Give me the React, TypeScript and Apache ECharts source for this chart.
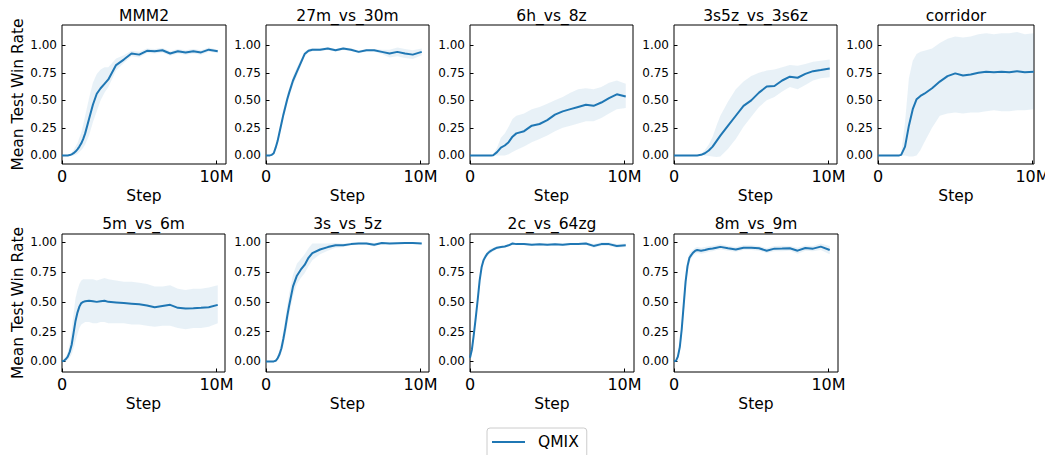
import React, { useEffect, useRef } from 'react';
import * as echarts from 'echarts';

// ---- data (steps in millions) ----
const STEPS = [0, 0.125, 0.25, 0.375, 0.5, 0.625, 0.75, 0.875, 1, 1.125, 1.25, 1.375, 1.5, 1.75, 2, 2.25, 2.5, 2.75, 3, 3.5, 4, 4.5, 5, 5.5, 6, 6.5, 7, 7.5, 8, 8.5, 9, 9.5, 10.08];

const TITLES = ['MMM2', '27m_vs_30m', '6h_vs_8z', '3s5z_vs_3s6z', 'corridor', '5m_vs_6m', '3s_vs_5z', '2c_vs_64zg', '8m_vs_9m'];
const X_TICKS = [0, 10];
const Y_TICKS = [0, 0.25, 0.5, 0.75, 1];
const SERIES_NAME = 'QMIX';

const mmm2Mean = [0, 0, 0, 0, 0.003, 0.01, 0.02, 0.035, 0.055, 0.08, 0.11, 0.15, 0.2, 0.33, 0.46, 0.56, 0.61, 0.65, 0.69, 0.82, 0.87, 0.925, 0.915, 0.95, 0.945, 0.955, 0.925, 0.945, 0.935, 0.945, 0.935, 0.96, 0.945];
const mmm2Low = [0, 0, 0, 0, 0, 0, 0, 0.005, 0.015, 0.03, 0.05, 0.07, 0.1, 0.18, 0.3, 0.4, 0.5, 0.57, 0.62, 0.77, 0.84, 0.9, 0.89, 0.93, 0.925, 0.935, 0.905, 0.925, 0.915, 0.925, 0.915, 0.94, 0.93];
const mmm2High = [0, 0, 0, 0, 0.01, 0.025, 0.05, 0.08, 0.11, 0.16, 0.21, 0.28, 0.36, 0.52, 0.66, 0.74, 0.78, 0.8, 0.8, 0.88, 0.91, 0.95, 0.94, 0.97, 0.965, 0.975, 0.945, 0.965, 0.955, 0.965, 0.955, 0.98, 0.96];

const m27Mean = [0, 0, 0, 0.005, 0.02, 0.07, 0.13, 0.21, 0.29, 0.37, 0.44, 0.51, 0.57, 0.68, 0.76, 0.84, 0.92, 0.95, 0.96, 0.96, 0.97, 0.955, 0.97, 0.96, 0.94, 0.955, 0.955, 0.94, 0.925, 0.94, 0.925, 0.915, 0.94];
const m27Low = [0, 0, 0, 0, 0.01, 0.05, 0.1, 0.17, 0.25, 0.33, 0.4, 0.47, 0.53, 0.64, 0.72, 0.81, 0.9, 0.935, 0.945, 0.948, 0.958, 0.943, 0.958, 0.948, 0.928, 0.943, 0.943, 0.92, 0.89, 0.9, 0.885, 0.875, 0.91];
const m27High = [0, 0, 0, 0.01, 0.03, 0.09, 0.16, 0.25, 0.33, 0.41, 0.48, 0.55, 0.61, 0.72, 0.8, 0.87, 0.94, 0.965, 0.975, 0.972, 0.982, 0.967, 0.982, 0.972, 0.952, 0.967, 0.967, 0.96, 0.96, 0.98, 0.965, 0.955, 0.97];

const h6Mean = [0, 0, 0, 0, 0, 0, 0, 0, 0, 0, 0, 0, 0.002, 0.03, 0.07, 0.09, 0.12, 0.17, 0.2, 0.22, 0.27, 0.285, 0.32, 0.37, 0.4, 0.42, 0.44, 0.46, 0.45, 0.48, 0.52, 0.555, 0.535];
const h6Low = [0, 0, 0, 0, 0, 0, 0, 0, 0, 0, 0, 0, 0, 0, 0, 0, 0.01, 0.03, 0.05, 0.08, 0.12, 0.15, 0.18, 0.22, 0.25, 0.27, 0.29, 0.31, 0.31, 0.34, 0.38, 0.42, 0.43];
const h6High = [0, 0, 0, 0, 0, 0, 0, 0, 0, 0, 0, 0, 0.01, 0.07, 0.16, 0.2, 0.26, 0.33, 0.36, 0.38, 0.42, 0.44, 0.47, 0.5, 0.53, 0.57, 0.6, 0.61, 0.6, 0.62, 0.66, 0.68, 0.65];

const s5zMean = [0, 0, 0, 0, 0, 0, 0, 0, 0, 0, 0, 0, 0, 0.005, 0.02, 0.045, 0.08, 0.13, 0.18, 0.27, 0.36, 0.45, 0.5, 0.57, 0.625, 0.63, 0.68, 0.715, 0.705, 0.74, 0.765, 0.775, 0.79];
const s5zLow = [0, 0, 0, 0, 0, 0, 0, 0, 0, 0, 0, 0, 0, 0, 0, -0.005, -0.01, -0.015, -0.01, 0.06, 0.15, 0.26, 0.35, 0.44, 0.5, 0.53, 0.58, 0.62, 0.6, 0.64, 0.68, 0.7, 0.71];
const s5zHigh = [0, 0, 0, 0, 0, 0, 0, 0, 0, 0, 0, 0, 0, 0.01, 0.05, 0.1, 0.17, 0.27, 0.36, 0.49, 0.6, 0.67, 0.72, 0.75, 0.77, 0.78, 0.8, 0.82, 0.815, 0.83, 0.85, 0.86, 0.87];

const corMean = [0, 0, 0, 0, 0, 0, 0, 0, 0, 0, 0, 0, 0.005, 0.08, 0.27, 0.42, 0.51, 0.54, 0.56, 0.61, 0.67, 0.72, 0.745, 0.725, 0.735, 0.75, 0.76, 0.755, 0.76, 0.755, 0.765, 0.755, 0.76];
const corLow = [0, 0, 0, 0, 0, 0, 0, 0, 0, 0, 0, 0, 0, 0, -0.01, -0.01, 0, 0.05, 0.12, 0.25, 0.36, 0.38, 0.39, 0.38, 0.39, 0.39, 0.4, 0.41, 0.4, 0.4, 0.41, 0.41, 0.42];
const corHigh = [0, 0, 0, 0, 0, 0, 0, 0, 0, 0, 0, 0, 0.02, 0.3, 0.7, 0.86, 0.92, 0.94, 0.95, 0.97, 1.02, 1.06, 1.08, 1.07, 1.08, 1.1, 1.11, 1.1, 1.11, 1.11, 1.12, 1.1, 1.11];

const m5Mean = [0, 0.005, 0.02, 0.04, 0.08, 0.14, 0.24, 0.34, 0.41, 0.46, 0.49, 0.5, 0.505, 0.51, 0.505, 0.5, 0.505, 0.51, 0.5, 0.495, 0.49, 0.485, 0.48, 0.47, 0.455, 0.465, 0.475, 0.45, 0.445, 0.447, 0.45, 0.455, 0.475];
const m5Low = [0, 0, 0, 0.01, 0.03, 0.06, 0.11, 0.17, 0.23, 0.28, 0.31, 0.32, 0.33, 0.33, 0.32, 0.32, 0.33, 0.33, 0.32, 0.32, 0.32, 0.31, 0.31, 0.3, 0.29, 0.3, 0.3, 0.28, 0.27, 0.28, 0.28, 0.29, 0.32];
const m5High = [0, 0.01, 0.04, 0.08, 0.15, 0.26, 0.4, 0.53, 0.6, 0.65, 0.68, 0.69, 0.69, 0.69, 0.69, 0.68, 0.69, 0.7, 0.69, 0.68, 0.67, 0.67, 0.66, 0.65, 0.63, 0.63, 0.64, 0.61, 0.6, 0.61, 0.61, 0.62, 0.64];

const s3Mean = [0, 0, 0, 0, 0, 0.005, 0.025, 0.06, 0.11, 0.19, 0.28, 0.38, 0.47, 0.63, 0.72, 0.77, 0.81, 0.87, 0.91, 0.94, 0.96, 0.975, 0.975, 0.985, 0.99, 0.99, 0.98, 0.995, 0.99, 0.993, 0.994, 0.995, 0.99];
const s3Low = [0, 0, 0, 0, 0, 0, 0.01, 0.03, 0.07, 0.13, 0.21, 0.3, 0.39, 0.55, 0.65, 0.7, 0.74, 0.8, 0.85, 0.9, 0.93, 0.955, 0.96, 0.975, 0.98, 0.98, 0.965, 0.988, 0.983, 0.986, 0.988, 0.989, 0.984];
const s3High = [0, 0, 0, 0, 0, 0.01, 0.045, 0.1, 0.16, 0.26, 0.36, 0.47, 0.57, 0.73, 0.82, 0.86, 0.9, 0.95, 0.99, 0.99, 0.99, 0.995, 0.99, 0.995, 1.0, 1.0, 0.995, 1.0, 0.997, 0.999, 1.0, 1.0, 0.996];

const c2Mean = [0.03, 0.1, 0.23, 0.37, 0.52, 0.68, 0.79, 0.85, 0.88, 0.905, 0.92, 0.93, 0.94, 0.955, 0.96, 0.965, 0.975, 0.99, 0.985, 0.985, 0.98, 0.983, 0.98, 0.983, 0.98, 0.986, 0.986, 0.99, 0.97, 0.985, 0.985, 0.97, 0.975];
const c2Low = [0.0, 0.07, 0.2, 0.34, 0.49, 0.65, 0.76, 0.825, 0.86, 0.885, 0.9, 0.912, 0.925, 0.943, 0.95, 0.957, 0.967, 0.982, 0.977, 0.977, 0.972, 0.975, 0.972, 0.975, 0.972, 0.978, 0.978, 0.98, 0.955, 0.97, 0.97, 0.955, 0.96];
const c2High = [0.06, 0.13, 0.26, 0.4, 0.55, 0.71, 0.82, 0.875, 0.9, 0.925, 0.94, 0.948, 0.955, 0.967, 0.97, 0.973, 0.983, 0.998, 0.993, 0.993, 0.988, 0.991, 0.988, 0.991, 0.988, 0.994, 0.994, 1.0, 0.985, 1.0, 1.0, 0.985, 0.99];

const m8Mean = [0, 0.005, 0.04, 0.12, 0.27, 0.47, 0.67, 0.8, 0.87, 0.895, 0.915, 0.93, 0.935, 0.93, 0.935, 0.944, 0.948, 0.955, 0.962, 0.95, 0.94, 0.955, 0.955, 0.95, 0.93, 0.947, 0.948, 0.95, 0.93, 0.952, 0.947, 0.964, 0.936];
const m8Low = [0, 0, 0.02, 0.08, 0.21, 0.4, 0.6, 0.75, 0.83, 0.865, 0.89, 0.905, 0.91, 0.905, 0.91, 0.92, 0.925, 0.935, 0.94, 0.93, 0.92, 0.935, 0.935, 0.93, 0.91, 0.925, 0.925, 0.93, 0.905, 0.93, 0.925, 0.935, 0.9];
const m8High = [0, 0.01, 0.06, 0.16, 0.33, 0.54, 0.74, 0.85, 0.91, 0.925, 0.94, 0.955, 0.96, 0.955, 0.96, 0.968, 0.971, 0.975, 0.984, 0.97, 0.96, 0.975, 0.975, 0.97, 0.95, 0.969, 0.971, 0.97, 0.955, 0.974, 0.969, 0.99, 0.97];

const MEANS = [mmm2Mean, m27Mean, h6Mean, s5zMean, corMean, m5Mean, s3Mean, c2Mean, m8Mean];
const LOWS = [mmm2Low, m27Low, h6Low, s5zLow, corLow, m5Low, s3Low, c2Low, m8Low];
const HIGHS = [mmm2High, m27High, h6High, s5zHigh, corHigh, m5High, s3High, c2High, m8High];

// ---- layout ----
const TOP_Y = [-0.078, 1.184];
const BOT_Y = [-0.089, 1.07];
const LAYOUT = [
  { left: 62, top: 25, width: 164, height: 139, y: TOP_Y, titleTop: 8 },
  { left: 266, top: 25, width: 163, height: 139, y: TOP_Y, titleTop: 8 },
  { left: 470, top: 25, width: 163, height: 139, y: TOP_Y, titleTop: 8 },
  { left: 674, top: 25, width: 163, height: 139, y: TOP_Y, titleTop: 8 },
  { left: 878, top: 25, width: 156, height: 139, y: TOP_Y, titleTop: 8 },
  { left: 62, top: 234, width: 163, height: 138, y: BOT_Y, titleTop: 216 },
  { left: 266, top: 234, width: 163, height: 138, y: BOT_Y, titleTop: 216 },
  { left: 470, top: 234, width: 164, height: 138, y: BOT_Y, titleTop: 216 },
  { left: 674, top: 234, width: 164, height: 138, y: BOT_Y, titleTop: 216 },
];
const PX_PER_M = 15.45;
const FONT = 'DejaVu Sans';
const BLUE = '#1f77b4';

export default function App() {
  const ref = useRef<HTMLDivElement>(null);
  useEffect(() => {
    if (!ref.current) return;
    const chart = echarts.init(ref.current, null, { renderer: 'svg' });
    const grids: any[] = [];
    const xAxes: any[] = [];
    const yAxes: any[] = [];
    const titles: any[] = [];
    const series: any[] = [];
    LAYOUT.forEach((l, i) => {
      grids.push({
        left: l.left, top: l.top, width: l.width, height: l.height,
        show: true, borderColor: '#000', borderWidth: 1, backgroundColor: 'transparent',
        containLabel: false, outerBoundsMode: 'none',
      });
      titles.push({
        text: TITLES[i], left: l.left + l.width / 2, top: l.titleTop, textAlign: 'center', padding: 0,
        textStyle: { fontSize: 15.5, fontWeight: 'normal', color: '#000', fontFamily: FONT },
      });
      xAxes.push({
        type: 'value', gridIndex: i, min: 0, max: l.width / PX_PER_M,
        axisLine: { show: false, onZero: false },
        axisTick: { show: true, inside: true, length: 3.5, lineStyle: { color: '#000', width: 1 }, customValues: X_TICKS },
        axisLabel: {
          customValues: X_TICKS, formatter: (v: number) => (v === 0 ? '0' : v + 'M'),
          fontSize: 16, color: '#000', margin: 4, fontFamily: FONT,
        },
        splitLine: { show: false },
        name: 'Step', nameLocation: 'middle', nameGap: 24,
        nameTextStyle: { fontSize: 15.5, color: '#000', fontFamily: FONT },
      });
      yAxes.push({
        type: 'value', gridIndex: i, min: l.y[0], max: l.y[1],
        axisLine: { show: false, onZero: false },
        axisTick: { show: true, inside: true, length: 3.5, lineStyle: { color: '#000', width: 1 }, customValues: Y_TICKS },
        axisLabel: {
          customValues: Y_TICKS, formatter: (v: number) => v.toFixed(2),
          fontSize: 12, color: '#000', margin: 5, fontFamily: FONT,
        },
        splitLine: { show: false },
        name: i % 5 === 0 ? 'Mean Test Win Rate' : '', nameLocation: 'middle', nameGap: 36, nameRotate: 90,
        nameTextStyle: { fontSize: 15.5, color: '#000', fontFamily: FONT },
      });
      const mean = MEANS[i], lo = LOWS[i], hi = HIGHS[i];
      series.push({
        type: 'custom', name: 'band' + i, xAxisIndex: i, yAxisIndex: i, silent: true, z: 1,
        data: [[0, 0]],
        renderItem: (_p: any, api: any) => {
          const up = STEPS.map((s, j) => api.coord([s, hi[j]]));
          const dn = STEPS.map((s, j) => api.coord([s, lo[j]])).reverse();
          return { type: 'polygon', shape: { points: up.concat(dn) }, style: { fill: 'rgba(31,119,180,0.1)' } };
        },
      });
      series.push({
        type: 'line', name: SERIES_NAME, xAxisIndex: i, yAxisIndex: i, z: 3,
        data: STEPS.map((s, j) => [s, mean[j]]),
        showSymbol: false, symbol: 'none', color: BLUE,
        lineStyle: { color: BLUE, width: 2 },
      });
    });
    chart.setOption({
      animation: false,
      backgroundColor: '#fff',
      textStyle: { fontFamily: FONT },
      title: titles,
      grid: grids,
      xAxis: xAxes,
      yAxis: yAxes,
      legend: {
        data: [SERIES_NAME], left: 487, top: 428, padding: [6, 8, 12, 5],
        itemWidth: 33, itemHeight: 2, icon: 'rect',
        borderColor: '#ccc', borderWidth: 1, borderRadius: 3, backgroundColor: '#fff',
        textStyle: { fontSize: 15.5, color: '#000', fontFamily: FONT, padding: [0, 0, 0, 8] },
      },
      series,
    });
    return () => chart.dispose();
  }, []);
  return <div ref={ref} style={{ position: 'absolute', left: 0, top: 0, width: 1045, height: 455, background: '#fff' }} />;
}
